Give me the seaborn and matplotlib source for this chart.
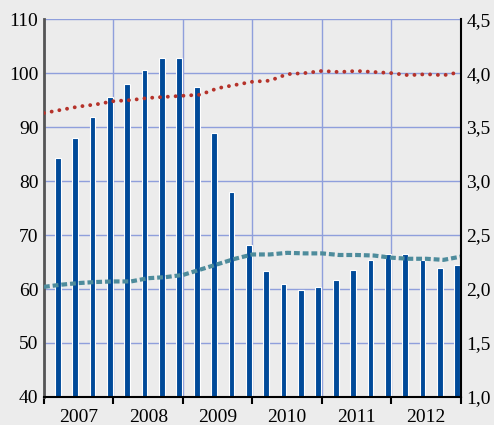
import numpy as np
import matplotlib
matplotlib.use("Agg")
import matplotlib.pyplot as plt
from matplotlib.ticker import FuncFormatter
import seaborn as sns

# Data (quarterly bars, lines at quarter boundaries)
years = ["2007", "2008", "2009", "2010", "2011", "2012"]
bar_values = [84.2, 88.0, 91.9, 95.5, 98.0, 100.6, 102.8, 102.8, 97.4, 88.9, 78.0, 68.1,
              63.3, 60.9, 59.9, 60.4, 61.7, 63.6, 65.4, 66.5, 66.5, 65.4, 63.8, 64.4]
red_values = [3.63, 3.66, 3.69, 3.71, 3.74, 3.75, 3.77, 3.78, 3.79, 3.80, 3.86, 3.89, 3.92,
              3.93, 3.99, 4.00, 4.02, 4.01, 4.02, 4.01, 4.00, 3.98, 3.99, 3.98, 4.01]
teal_values = [2.02, 2.04, 2.055, 2.065, 2.07, 2.07, 2.10, 2.11, 2.13, 2.18, 2.23, 2.28, 2.32,
               2.32, 2.335, 2.33, 2.33, 2.315, 2.315, 2.31, 2.29, 2.28, 2.28, 2.27, 2.30]

bg = "#ececec"
grid_c = "#8f9fdc"
plt.rcParams["font.family"] = ["Liberation Serif", "DejaVu Serif"]
plt.rcParams["font.size"] = 14

fig = plt.figure(figsize=(4.94, 4.25), dpi=100, facecolor=bg)
ax = fig.add_axes([0.089, 0.066, 0.844, 0.889])
ax.set_facecolor(bg)

bar_x = np.arange(len(bar_values)) + 0.79
sns.barplot(x=bar_x, y=bar_values, native_scale=True, width=0.33, color="#004a99",
            saturation=1, edgecolor="white", linewidth=0.8, ax=ax, zorder=2)

ax.set_xlim(0, 24)
ax.set_ylim(40, 110)
ax.set_yticks(range(40, 111, 10))
ax.set_xticks([2, 6, 10, 14, 18, 22])
ax.set_xticklabels(years)
ax.set_xticks(range(0, 25, 4), minor=True)
ax.tick_params(axis="x", which="major", length=0, pad=9)
ax.tick_params(axis="x", which="minor", length=5, width=1.5, color="black")
ax.tick_params(axis="y", length=0, pad=4)
ax.set_xlabel("")
ax.set_ylabel("")

ax.set_axisbelow(True)
ax.grid(axis="y", color=grid_c, linewidth=1)
ax.grid(axis="x", which="minor", color=grid_c, linewidth=1)
ax.grid(axis="x", which="major", visible=False)

ax2 = ax.twinx()
line_x = np.arange(len(red_values))
sns.lineplot(x=line_x, y=red_values, ax=ax2, color="#b5322a", linewidth=2.8,
             linestyle=(0, (0.01, 2.0)), dash_capstyle="round")
sns.lineplot(x=line_x, y=teal_values, ax=ax2, color="#4e8c9c", linewidth=3.0,
             linestyle=(0, (1.4, 0.7)))
ax2.set_ylim(1.0, 4.5)
ax2.set_yticks(np.arange(1.0, 4.51, 0.5))
ax2.yaxis.set_major_formatter(FuncFormatter(lambda v, _: f"{v:.1f}".replace(".", ",")))
ax2.tick_params(axis="y", length=0, pad=4)
ax2.set_ylabel("")

for a in (ax, ax2):
    for s in a.spines.values():
        s.set_visible(False)
ax.spines["left"].set_visible(True)
ax.spines["left"].set_color("#555555")
ax.spines["left"].set_linewidth(2)
ax.spines["bottom"].set_visible(True)
ax.spines["bottom"].set_color("black")
ax.spines["bottom"].set_linewidth(1.5)
ax2.spines["right"].set_visible(True)
ax2.spines["right"].set_color("black")
ax2.spines["right"].set_linewidth(1.5)

fig.savefig("out.png", dpi=100, facecolor=bg)
